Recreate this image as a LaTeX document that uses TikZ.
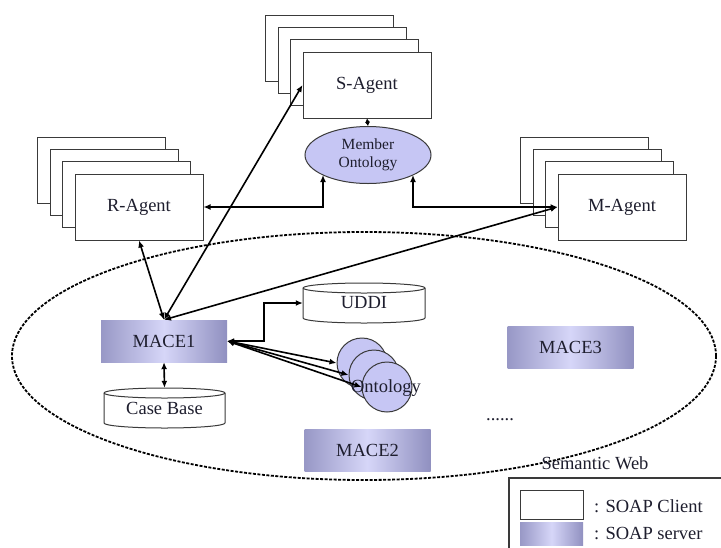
\documentclass[tikz,border=0pt]{standalone}
\usepackage{fontspec}
\setmainfont{Liberation Serif}
\usetikzlibrary{arrows.meta,calc,shapes.geometric}
\definecolor{txt}{HTML}{1E1E2E}
\definecolor{edge}{HTML}{3A3A3A}
\definecolor{lav}{HTML}{C6C6F4}
\definecolor{macel}{HTML}{9898C6}
\definecolor{macem}{HTML}{D6D6F8}
\definecolor{macer}{HTML}{9090C0}
\newcommand\mybigfont{\fontsize{18.5}{20}\selectfont}
\newcommand\mysmallfont{\fontsize{15.5}{18}\selectfont}
\newcommand\agentstack[4]{%
  \foreach \k in {3,2,1} {
    \draw[stackbox] ({#2-12.4*\k-64},{#3-12.2*\k-33}) rectangle ++(128,66);
  }
  \node[agentbox] (#1) at (#2,#3) {#4};
}
\newcommand\dbcyl[6]{%
  \path[draw=edge,line width=1pt,fill=white]
    (#2,#3+5) -- (#2,#5-5) arc[start angle=180,end angle=0,x radius={(#4-#2)/2},y radius=5]
    -- (#4,#3+5) arc[start angle=0,end angle=-180,x radius={(#4-#2)/2},y radius=5] -- cycle;
  \draw[edge,line width=1pt] (#2,#3+5) arc[start angle=180,end angle=0,x radius={(#4-#2)/2},y radius=5];
  \node[cylbox,minimum width={(#4-#2)*1pt},minimum height={(#5-#3)*1pt}] (#1) at ({(#2+#4)/2},{(#3+#5)/2}) {\raisebox{-4pt}{#6}};
}
\begin{document}
\begin{tikzpicture}[x=1pt,y=-1pt,
  agentbox/.style={draw=edge,line width=1pt,fill=white,minimum width=128pt,minimum height=66pt,inner sep=0pt,font=\mybigfont,text=txt},
  stackbox/.style={draw=edge,line width=1pt,fill=white},
  macebox/.style={left color=macel,right color=macer,middle color=macem,minimum width=126pt,minimum height=42pt,inner sep=0pt,font=\mybigfont,text=txt},
  cylbox/.style={inner sep=0pt,font=\mybigfont,text=txt},
  ontocircle/.style={circle,draw=edge,line width=1pt,fill=lav,minimum size=50pt,inner sep=0pt},
  conn/.style={line width=1.6pt,{Latex[length=7pt,width=6pt]}-{Latex[length=7pt,width=6pt]}},
  shortconn/.style={line width=1.6pt,{Latex[length=4pt,width=5pt]}-{Latex[length=4pt,width=5pt]}},
  webline/.style={line width=1.8pt,dash pattern=on 3pt off 1.5pt},
  plain/.style={font=\mybigfont,text=txt,inner sep=0pt}
]
\clip (0,0) rectangle (721,547);
\fill[white] (0,0) rectangle (721,547);

% Semantic Web boundary
\draw[webline] (364,356) ellipse [x radius=352, y radius=124];

% agents
\agentstack{sagent}{367}{85}{S-Agent}
\agentstack{ragent}{139}{207}{R-Agent}
\agentstack{magent}{622}{207}{M-Agent}

% member ontology
\node[ellipse,draw=edge,line width=1pt,fill=lav,minimum width=126pt,minimum height=57pt,inner sep=0pt,
      font=\mysmallfont,text=txt,align=center] (member) at (368,155) {Member\\Ontology};
\coordinate (mL) at (323,175);
\coordinate (mR) at (413,175);

% MACE servers
\node[macebox] (mace1) at (164,341) {MACE1};
\node[macebox] (mace2) at (367.5,450.5) {MACE2};
\node[macebox] (mace3) at (570.5,347) {MACE3};

% databases
\dbcyl{uddi}{303}{283}{425}{323}{UDDI}
\dbcyl{casebase}{104}{388}{225}{428}{Case Base}

% ontologies
\node[ontocircle] (onto1) at (362,363) {};
\node[ontocircle] (onto2) at (374,375) {};
\node[ontocircle] (onto3) at (387,387) {};
\node[plain] (ontotext) at (386,388) {Ontology};

% connectors
\draw[shortconn] (sagent.south) -- (member.north);
\draw[conn] (mL) |- (ragent.east);
\draw[conn] (mR) |- (magent.west);
\draw[conn] (mace1.north) -- (ragent.south);
\draw[conn] (mace1.north) -- (sagent.west);
\draw[conn] (mace1.north) -- (magent.west);
\draw[conn] (mace1.east) -- ++(37,0) |- (uddi.west);
\draw[conn] (mace1.east) -- (onto1.west);
\draw[conn] (mace1.east) -- (onto2.west);
\draw[conn] (mace1.east) -- (onto3.west);
\draw[conn] (mace1.south) -- (casebase.north);

% misc text
\node[plain] (dots) at (500,420) {......};
\node[plain] (semweb) at (595,463) {Semantic Web};

% legend
\node[draw=edge,line width=1.5pt,minimum width=240pt,minimum height=100pt,anchor=north west,inner sep=0pt] (legend) at (508,477) {};
\node[draw=edge,line width=1pt,fill=white,minimum width=63pt,minimum height=29pt,inner sep=0pt,anchor=north west] (lclient) at (520,490) {};
\node[left color=macel,right color=macer,middle color=macem,minimum width=63pt,minimum height=23pt,inner sep=0pt,anchor=north west] (lserver) at (520,522) {};
\node[plain,anchor=west] (tclient) at (594,506) {: SOAP Client};
\node[plain,anchor=west] (tserver) at (594,533) {: SOAP server};
\end{tikzpicture}
\end{document}
